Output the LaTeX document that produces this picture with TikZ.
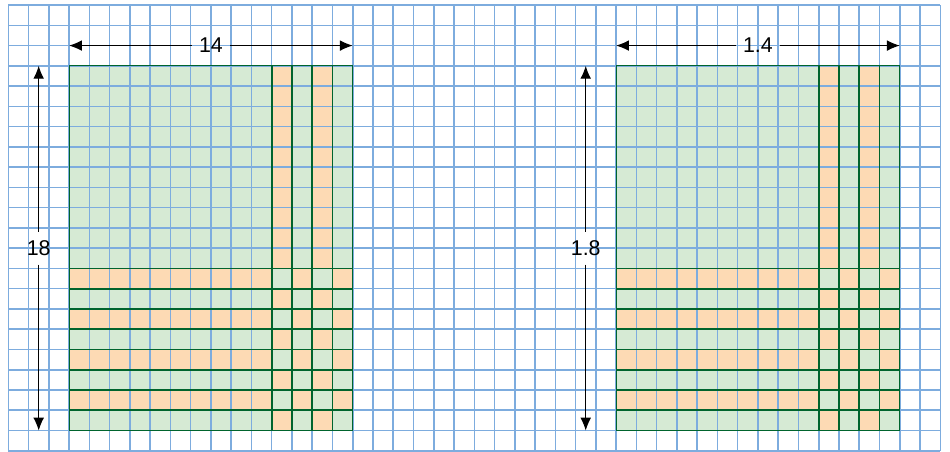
\documentclass[tikz,border=0pt]{standalone}
\usepackage{fontspec}
\setmainfont{Liberation Sans}
\usetikzlibrary{arrows.meta}
\definecolor{gBlue}{RGB}{125,172,222}
\definecolor{gGreen}{RGB}{214,234,212}
\definecolor{gOrange}{RGB}{253,218,180}
\definecolor{gDark}{RGB}{0,100,45}

\begin{document}
\begin{tikzpicture}[
  x=0.5cm,
  y=0.5cm,
  every node/.style={font=\fontsize{15}{17}\selectfont},
  dimlabel/.style={inner xsep=5pt, inner ysep=6pt},
  gridline/.style={gBlue, line width=1.1pt},
  stripline/.style={gDark, line width=1.3pt},
  dimline/.style={line width=0.7pt, -{Latex[length=9pt,width=7.5pt]}}
]
  \useasboundingbox (-0.41,-0.02) rectangle (46.48,22.25);

  % fills of the two squares
  \foreach \ox in {3,30} {
    \fill[gGreen] (\ox,1) rectangle ++(14,18);
    \foreach \i in {10,12}
      \fill[gOrange] (\ox+\i,1) rectangle ++(1,18);
    \foreach \j in {2,4,6,8}
      \fill[gOrange] (\ox,\j) rectangle ++(14,1);
    \foreach \i in {10,12}
      \foreach \j in {2,4,6,8}
        \fill[gGreen] (\ox+\i,\j) rectangle ++(1,1);
  }

  % squared paper
  \foreach \i in {0,...,46}
    \draw[gridline] (\i,0) -- (\i,22);
  \foreach \j in {0,...,22}
    \draw[gridline] (0,\j) -- (46,\j);

  % strip borders
  \foreach \ox in {3,30} {
    \draw[gDark, line width=0.6pt] (\ox,1) rectangle ++(14,18);
    \foreach \i in {10,...,13}
      \draw[stripline] (\ox+\i,1) -- (\ox+\i,19);
    \foreach \j in {1,...,9}
      \draw[stripline] (\ox,\j) -- (\ox+14,\j);
  }

  % dimensions, left
  \node[dimlabel] (wl) at (10,20) {14};
  \coordinate (wlA) at (3,20);
  \coordinate (wlB) at (17,20);
  \draw[dimline] (wl) -- (wlA);
  \draw[dimline] (wl) -- (wlB);
  \node[dimlabel] (hl) at (1.5,10) {18};
  \coordinate (hlA) at (1.5,19);
  \coordinate (hlB) at (1.5,1);
  \draw[dimline] (hl) -- (hlA);
  \draw[dimline] (hl) -- (hlB);

  % dimensions, right
  \node[dimlabel] (wr) at (37,20) {1.4};
  \coordinate (wrA) at (30,20);
  \coordinate (wrB) at (44,20);
  \draw[dimline] (wr) -- (wrA);
  \draw[dimline] (wr) -- (wrB);
  \node[dimlabel] (hr) at (28.5,10) {1.8};
  \coordinate (hrA) at (28.5,19);
  \coordinate (hrB) at (28.5,1);
  \draw[dimline] (hr) -- (hrA);
  \draw[dimline] (hr) -- (hrB);
\end{tikzpicture}
\end{document}
